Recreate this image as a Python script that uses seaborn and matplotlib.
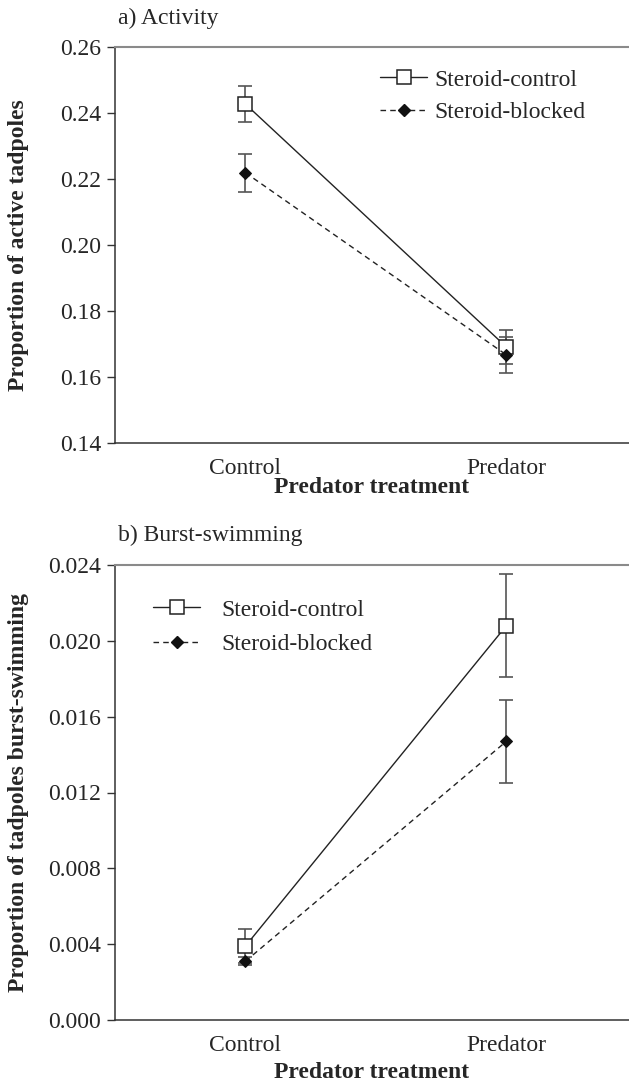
import matplotlib
matplotlib.use("Agg")
import matplotlib.pyplot as plt
import seaborn as sns
import pandas as pd
from matplotlib.lines import Line2D

# ---- data ----
treatments = ["Control", "Predator"]
series_names = ["Steroid-control", "Steroid-blocked"]

act_control_mean = [0.2427, 0.1691]
act_control_se = [0.0055, 0.0051]
act_blocked_mean = [0.2219, 0.1667]
act_blocked_se = [0.0058, 0.0055]

burst_control_mean = [0.0039, 0.0208]
burst_control_se = [0.0009, 0.0027]
burst_blocked_mean = [0.0031, 0.0147]
burst_blocked_se = [0.0002, 0.0022]

act_yticks = [0.14, 0.16, 0.18, 0.20, 0.22, 0.24, 0.26]
burst_yticks = [0.000, 0.004, 0.008, 0.012, 0.016, 0.020, 0.024]

sns.set_style("white")
plt.rcParams["font.family"] = ["Liberation Serif", "DejaVu Serif"]
plt.rcParams["font.size"] = 17

fig = plt.figure(figsize=(6.29, 10.85), dpi=100)
W, H = 629, 1085

def px_axes(left, top, right, bottom):
    return fig.add_axes([left / W, 1 - bottom / H, (right - left) / W, (bottom - top) / H])

ax1 = px_axes(115, 47, 629, 443)
ax2 = px_axes(115, 565, 629, 1020)

LINE = "#222222"
ERR = "#555555"

def draw(ax, cm, cse, bm, bse):
    df = pd.DataFrame({
        "treatment": treatments * 2,
        "value": cm + bm,
        "group": [series_names[0]] * 2 + [series_names[1]] * 2,
    })
    ax.errorbar(treatments, cm, yerr=cse, fmt="none", ecolor=ERR, elinewidth=1.2,
                capsize=5, capthick=1.2, zorder=2)
    ax.errorbar(treatments, bm, yerr=bse, fmt="none", ecolor=ERR, elinewidth=1.2,
                capsize=5, capthick=1.2, zorder=2)
    sns.lineplot(data=df[df.group == series_names[0]], x="treatment", y="value", ax=ax,
                 color=LINE, lw=1.0, marker="s", markersize=9.5, markerfacecolor="white",
                 markeredgecolor="#222222", markeredgewidth=1.1, legend=False, zorder=3)
    sns.lineplot(data=df[df.group == series_names[1]], x="treatment", y="value", ax=ax,
                 color=LINE, lw=1.0, linestyle=(0, (4, 3)), marker="D", markersize=6.5,
                 markerfacecolor="#111111", markeredgecolor="#111111", legend=False, zorder=4)

def style(ax, yticks, fmt, ylabel):
    ax.set_xlim(-0.5, 1.47)
    ax.set_ylim(yticks[0], yticks[-1])
    ax.set_yticks(yticks)
    ax.set_yticklabels([fmt.format(v) for v in yticks])
    ax.set_xticks([0, 1])
    ax.set_xticklabels(treatments)
    ax.set_xticks([-0.5, 0.5], minor=True)
    ax.tick_params(axis="x", which="major", length=0, pad=11, labelsize=17)
    ax.tick_params(axis="x", which="minor", length=5, width=1, color="#333333", direction="out")
    ax.tick_params(axis="y", which="major", length=6, width=1, color="#333333",
                   direction="out", pad=4, labelsize=17, left=True)
    for s in ["left", "bottom"]:
        ax.spines[s].set_color("#333333")
        ax.spines[s].set_linewidth(1.1)
    ax.spines["top"].set_color("#8a8a8a")
    ax.spines["top"].set_linewidth(1.5)
    ax.spines["right"].set_visible(False)
    ax.set_ylabel(ylabel, fontweight="bold", fontsize=17)
    ax.set_xlabel("Predator treatment", fontweight="bold", fontsize=17)
    ax.yaxis.set_label_coords(-0.168, 0.5)

draw(ax1, act_control_mean, act_control_se, act_blocked_mean, act_blocked_se)
style(ax1, act_yticks, "{:.2f}", "Proportion of active tadpoles")
ax1.xaxis.set_label_coords(0.5, -0.085)

draw(ax2, burst_control_mean, burst_control_se, burst_blocked_mean, burst_blocked_se)
style(ax2, burst_yticks, "{:.3f}", "Proportion of tadpoles burst-swimming")
ax2.xaxis.set_label_coords(0.5, -0.092)

def legend(ax, x, y, textpad, spacing):
    h1 = Line2D([], [], color=LINE, lw=1.0, marker="s", markersize=9.5,
                markerfacecolor="white", markeredgecolor="#222222", markeredgewidth=1.1)
    h2 = Line2D([], [], color=LINE, lw=1.0, linestyle=(0, (4, 3)), marker="D", markersize=6.5,
                markerfacecolor="#111111", markeredgecolor="#111111")
    ax.legend([h1, h2], series_names, loc="upper left", bbox_to_anchor=(x, y),
              frameon=False, borderpad=0, borderaxespad=0, handlelength=2.0,
              handletextpad=textpad, labelspacing=spacing, fontsize=17, numpoints=1)

legend(ax1, 0.5156, 0.944, 0.3, 0.45)
legend(ax2, 0.074, 0.925, 0.9, 0.55)

fig.text(118 / W, 1 - 18 / H, "a) Activity", ha="left", va="center", fontsize=17)
fig.text(118 / W, 1 - 535 / H, "b) Burst-swimming", ha="left", va="center", fontsize=17)

fig.savefig("out.png", dpi=100)
